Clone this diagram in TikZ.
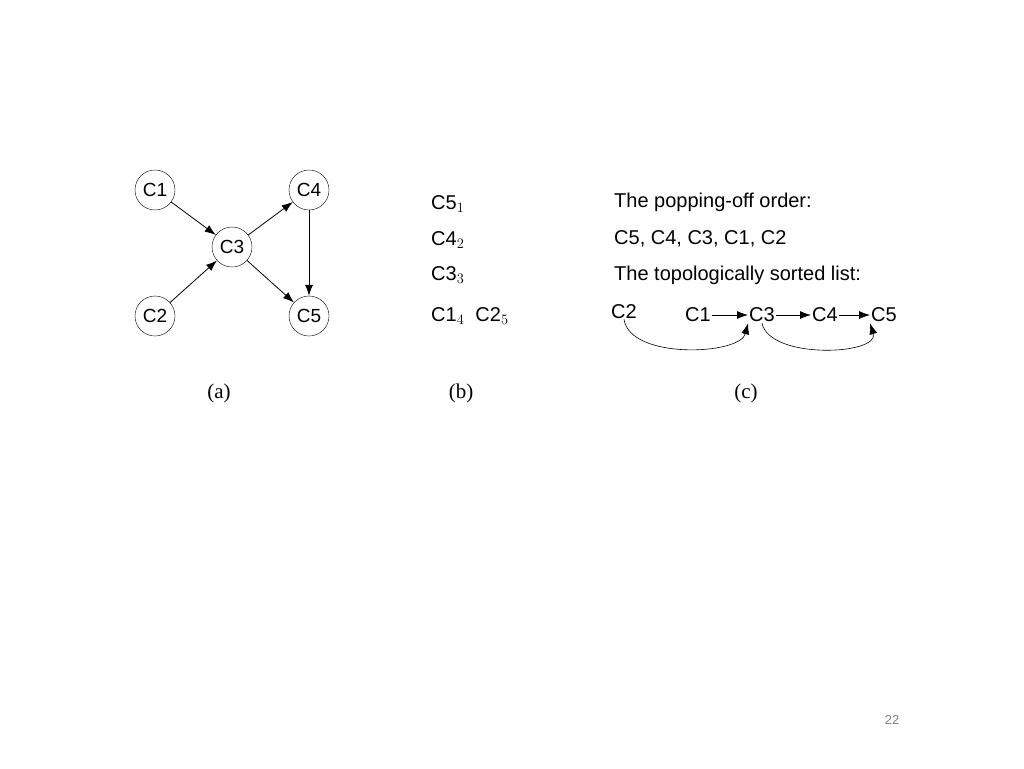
\documentclass[tikz,border=0pt]{standalone}
\usepackage{fontspec}
\setmainfont{Liberation Sans}
\newfontfamily\serifp{Liberation Serif}
\usetikzlibrary{arrows.meta}
\begin{document}
\begin{tikzpicture}[x=1pt,y=-1pt,
  cnode/.style={draw,circle,minimum size=40pt,inner sep=0pt,font=\fontsize{19}{22}\selectfont},
  arr/.style={-{Latex[length=11pt,width=8pt]},line width=0.8pt},
  txt/.style={anchor=west,inner sep=0pt,font=\fontsize{20}{24}\selectfont},
  captxt/.style={font=\serifp\fontsize{21}{24}\selectfont}]
\useasboundingbox (0,0) rectangle (1024,768);
\node[cnode] (c1) at (155,190) {C1};
\node[cnode] (c4) at (309,190) {C4};
\node[cnode] (c3) at (232,247) {C3};
\node[cnode] (c2) at (155,316) {C2};
\node[cnode] (c5) at (309,316) {C5};
\draw[arr] (c1) -- (c3);
\draw[arr] (c2) -- (c3);
\draw[arr] (c3) -- (c4);
\draw[arr] (c3) -- (c5);
\draw[arr] (c4) -- (c5);
\node[txt] (b1) at (431,204) {C5$_1$};
\node[txt] (b2) at (431,240) {C4$_2$};
\node[txt] (b3) at (431,275) {C3$_3$};
\node[txt] (b4) at (431,316) {C1$_4$ \;C2$_5$};
\node[txt] (t1) at (614,202) {The popping-off order:};
\node[txt] (t2) at (614,239) {C5, C4, C3, C1, C2};
\node[txt] (t3) at (614,275) {The topologically sorted list:};
\node[txt] (d2) at (611,312) {C2};
\node[inner sep=1pt,font=\fontsize{20}{24}\selectfont] (d1) at (698,315) {C1};
\node[inner sep=1pt,font=\fontsize{20}{24}\selectfont] (d3) at (762,315) {C3};
\node[inner sep=1pt,font=\fontsize{20}{24}\selectfont] (d4) at (825,315) {C4};
\node[inner sep=1pt,font=\fontsize{20}{24}\selectfont] (d5) at (884,315) {C5};
\draw[arr] (d1) -- (d3);
\draw[arr] (d3) -- (d4);
\draw[arr] (d4) -- (d5);
\draw[arr,line width=0.6pt] (d2.south) .. controls (630,360) and (740,355) .. (d3.south west);
\draw[arr,line width=0.6pt] (d3.south) .. controls (770,360) and (880,355) .. (d5.south west);
\node[captxt] (la) at (219,393) {(a)};
\node[captxt] (lb) at (461,393) {(b)};
\node[captxt] (lc) at (746,393) {(c)};
\node[font=\fontsize{13}{15}\selectfont,text=gray] (pg) at (892,720) {22};
\end{tikzpicture}
\end{document}
